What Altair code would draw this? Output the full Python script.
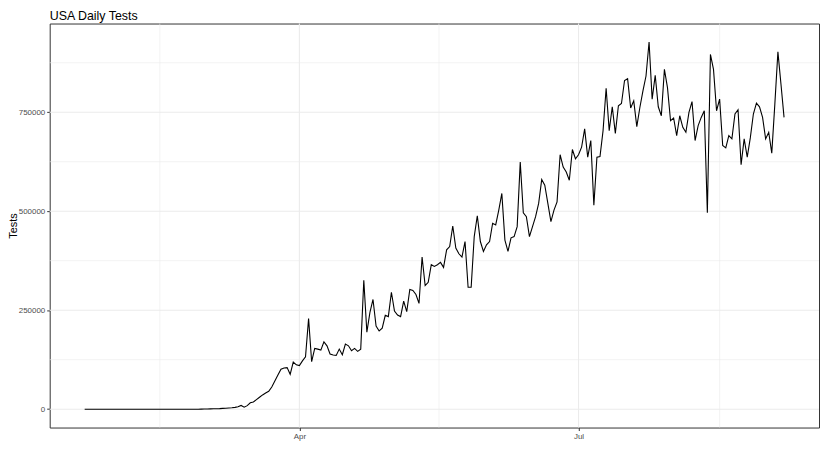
import altair as alt
import pandas as pd

start_date = "2020-01-22"
tests = [
    0, 0, 0, 0, 0, 0, 0, 0, 0, 0,
    0, 0, 0, 0, 0, 0, 0, 0, 0, 0,
    0, 0, 0, 0, 0, 0, 0, 0, 0, 0,
    0, 0, 0, 0, 0, 0, 0, 0, 200, 400,
    500, 700, 1000, 1200, 1500, 2000, 2200, 2800, 3500, 4500,
    6000, 9500, 5000, 9000, 16000, 18000, 24000, 30000, 36000, 41000,
    45000, 56000, 71000, 86000, 101000, 104000, 105000, 88000, 119000, 112000,
    110000, 122000, 132000, 228700, 119900, 153500, 151700, 149200, 170000, 160000,
    139200, 136700, 135900, 151700, 137400, 164300, 160000, 147500, 153500, 146000,
    151700, 325600, 194400, 244500, 277100, 210200, 197600, 204400, 237000, 233800,
    295400, 247800, 237800, 233800, 272900, 246300, 302200, 299700, 289700, 267100,
    384200, 312200, 320500, 364900, 360700, 364900, 370700, 358100, 402500, 410800,
    462700, 406800, 392500, 384200, 423400, 308000, 308000, 435900, 488600, 423400,
    398300, 415100, 423400, 469500, 465200, 502900, 544800, 427000, 398300, 432700,
    435900, 461000, 624000, 496100, 486100, 435900, 461000, 486100, 519700, 579900,
    565600, 519700, 473500, 502900, 523700, 642600, 611500, 598900, 578100, 655800,
    632500, 642600, 661600, 707800, 636600, 678500, 515400, 636600, 638300, 703500,
    810600, 703500, 763700, 696700, 766200, 772000, 830000, 834700, 760500, 778800,
    713600, 761900, 803800, 841400, 927500, 783000, 843200, 763700, 741100, 858200,
    812100, 728600, 735400, 691000, 741100, 711800, 699300, 749400, 777000, 678500,
    716100, 736900, 753700, 496100, 895900, 858300, 753700, 783000, 665900, 660100,
    691000, 682700, 745400, 756200, 617500, 682700, 636600, 685200, 745400, 773000,
    763700, 736900, 682700, 699300, 646600, 770500, 902400, 820600, 736900,
]
dates = pd.date_range(start_date, periods=len(tests), freq="D").strftime("%Y-%m-%d").tolist()

y_major = [0, 250000, 500000, 750000]
y_minor = [125000, 375000, 625000, 875000]
x_major = ["2020-04-01", "2020-07-01"]
x_minor = ["2020-02-15T12:00:00Z", "2020-05-16T12:00:00Z", "2020-08-16T00:00:00Z"]

df = pd.DataFrame({"date": dates, "tests": tests})

FONT = "Liberation Sans"
GRID = "#EBEBEB"

x_scale = alt.Scale(
    type="utc",
    domain=[
        alt.DateTime(year=2020, month=1, date=10, hours=14, minutes=24, utc=True),
        alt.DateTime(year=2020, month=9, date=17, hours=9, minutes=36, utc=True),
    ],
)
y_scale = alt.Scale(domain=[-46400, 974000], nice=False, zero=False)

x_axis = alt.Axis(
    values=[
        alt.DateTime(year=2020, month=4, date=1, utc=True),
        alt.DateTime(year=2020, month=7, date=1, utc=True),
    ],
    format="%b",
    title=None,
    labelPadding=2,
)
y_axis = alt.Axis(values=y_major, format="d", title="Tests", labelPadding=2, titlePadding=0)

hminor = alt.Chart(pd.DataFrame({"v": y_minor})).mark_rule(color=GRID, strokeWidth=0.6).encode(
    y=alt.Y("v:Q", scale=y_scale, axis=y_axis)
)
hmajor = alt.Chart(pd.DataFrame({"v": y_major})).mark_rule(color=GRID, strokeWidth=1.1).encode(
    y=alt.Y("v:Q", scale=y_scale, axis=y_axis)
)
vminor = alt.Chart(pd.DataFrame({"d": x_minor})).mark_rule(color=GRID, strokeWidth=0.6).encode(
    x=alt.X("d:T", scale=x_scale, axis=x_axis)
)
vmajor = alt.Chart(pd.DataFrame({"d": x_major})).mark_rule(color=GRID, strokeWidth=1.1).encode(
    x=alt.X("d:T", scale=x_scale, axis=x_axis)
)
line = alt.Chart(df).mark_line(color="black", strokeWidth=1.1).encode(
    x=alt.X("date:T", scale=x_scale, axis=x_axis),
    y=alt.Y("tests:Q", scale=y_scale, axis=y_axis),
)

chart = (
    alt.layer(hminor, hmajor, vminor, vmajor, line)
    .properties(
        width=775,
        height=407,
        title=alt.TitleParams(
            "USA Daily Tests", anchor="start", frame="group", font=FONT, fontSize=12.5,
            fontWeight="normal", color="black", offset=1,
        ),
        autosize=alt.AutoSizeParams(type="none"),
        padding={"left": 42, "top": 14, "right": 2, "bottom": 24},
    )
    .configure_view(stroke="#333333", strokeWidth=1)
    .configure_axis(
        labelFont=FONT, labelFontSize=8, labelColor="#4D4D4D",
        tickColor="#333333", tickSize=3, domain=False, grid=False,
        titleFont=FONT, titleFontSize=11, titleFontWeight="normal", titleColor="black",
    )
)

chart.save("out.html", embed_options={"renderer": "svg", "actions": False})
